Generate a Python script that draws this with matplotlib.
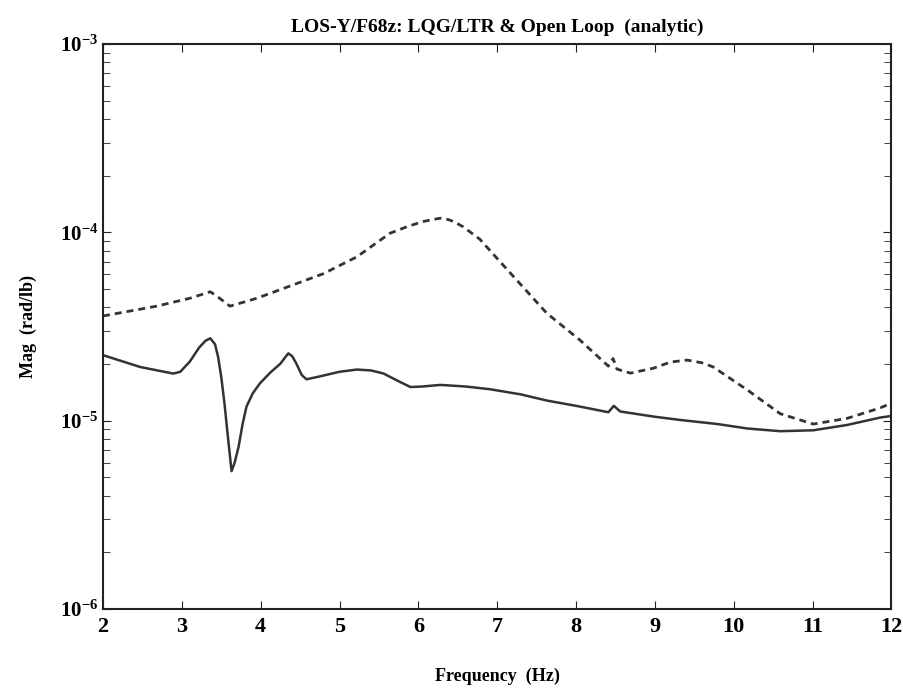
import matplotlib
matplotlib.use("Agg")
import matplotlib.pyplot as plt
from matplotlib.ticker import LogLocator, FixedLocator

plt.rcParams['font.family'] = ['Liberation Serif', 'DejaVu Serif']

# LQG/LTR closed loop (solid)
freq_lqg = [2.0, 2.47, 2.89, 2.98, 3.10, 3.22, 3.30, 3.36, 3.42, 3.46, 3.50, 3.54, 3.58,
            3.63, 3.67, 3.72, 3.77, 3.82, 3.90, 3.99, 4.12, 4.25, 4.31, 4.35, 4.40, 4.45,
            4.52, 4.58, 4.75, 5.0, 5.22, 5.40, 5.56, 5.75, 5.90, 6.05, 6.28, 6.6, 6.91,
            7.3, 7.63, 8.0, 8.41, 8.48, 8.56, 9.0, 9.32, 9.8, 10.17, 10.59, 11.01,
            11.44, 11.86, 12.0]
mag_lqg = [2.23e-5, 1.93e-5, 1.78e-5, 1.82e-5, 2.06e-5, 2.45e-5, 2.66e-5, 2.74e-5,
           2.55e-5, 2.18e-5, 1.70e-5, 1.24e-5, 8.5e-6, 5.4e-6, 6.0e-6, 7.3e-6, 9.6e-6,
           1.19e-5, 1.40e-5, 1.58e-5, 1.80e-5, 2.01e-5, 2.17e-5, 2.28e-5, 2.20e-5,
           2.02e-5, 1.75e-5, 1.66e-5, 1.72e-5, 1.82e-5, 1.87e-5, 1.85e-5, 1.78e-5,
           1.62e-5, 1.51e-5, 1.52e-5, 1.55e-5, 1.52e-5, 1.47e-5, 1.38e-5, 1.28e-5,
           1.20e-5, 1.11e-5, 1.20e-5, 1.12e-5, 1.05e-5, 1.01e-5, 9.6e-6, 9.1e-6,
           8.8e-6, 8.9e-6, 9.5e-6, 1.04e-5, 1.06e-5]

# open loop (dashed)
freq_ol = [2.0, 2.68, 3.10, 3.30, 3.36, 3.44, 3.61, 3.95, 4.37, 4.80, 5.22, 5.64, 5.85,
           6.05, 6.18, 6.28, 6.38, 6.45, 6.57, 6.78, 6.91, 7.21, 7.63, 8.05, 8.41, 8.47,
           8.52, 8.69, 8.98, 9.2, 9.41, 9.6, 9.74, 10.17, 10.59, 11.01, 11.44, 11.86, 12.0]
mag_ol = [3.6e-5, 4.06e-5, 4.47e-5, 4.75e-5, 4.84e-5, 4.6e-5, 4.06e-5, 4.47e-5,
          5.19e-5, 6.05e-5, 7.42e-5, 9.9e-5, 1.07e-4, 1.14e-4, 1.17e-4, 1.19e-4,
          1.17e-4, 1.14e-4, 1.07e-4, 9.2e-5, 8.0e-5, 5.81e-5, 3.72e-5, 2.68e-5,
          1.95e-5, 2.14e-5, 1.88e-5, 1.79e-5, 1.90e-5, 2.05e-5, 2.10e-5, 2.03e-5,
          1.93e-5, 1.46e-5, 1.09e-5, 9.6e-6, 1.03e-5, 1.17e-5, 1.24e-5]

x_ticks = [2, 3, 4, 5, 6, 7, 8, 9, 10, 11, 12]

fig = plt.figure(figsize=(9.04, 6.89), dpi=100)
ax = fig.add_axes([0.114, 0.116, 0.872, 0.820])

ax.plot(freq_lqg, mag_lqg, color='#333333', linewidth=1.8)
ax.plot(freq_ol, mag_ol, color='#333333', linewidth=2.0, linestyle=(0, (2.5, 1.8)))

ax.set_yscale('log')
ax.set_xlim(2, 12)
ax.set_ylim(1e-6, 1e-3)
ax.xaxis.set_major_locator(FixedLocator(x_ticks))
ax.set_xticklabels([str(t) for t in x_ticks])
ax.yaxis.set_major_locator(LogLocator(base=10))
ax.yaxis.set_minor_locator(LogLocator(base=10, subs=range(2, 10)))

ax.tick_params(which='both', direction='in', top=True, right=True, labelsize=15, color='#222222')
ax.tick_params(axis='x', labelsize=16, pad=6)
ax.tick_params(which='major', length=6)
ax.tick_params(which='minor', length=5)
for s in ax.spines.values():
    s.set_linewidth(1.5)
    s.set_color('#222222')

ax.set_title("LOS-Y/F68z: LQG/LTR & Open Loop  (analytic)", fontsize=14, fontweight='bold', pad=9)
ax.set_xlabel("Frequency  (Hz)", fontsize=13, fontweight='bold', labelpad=22)
ax.set_ylabel("Mag  (rad/lb)", fontsize=13, fontweight='bold', labelpad=16)
for lab in ax.get_xticklabels() + ax.get_yticklabels():
    lab.set_fontweight('bold')

plt.savefig("out.png", dpi=100)
